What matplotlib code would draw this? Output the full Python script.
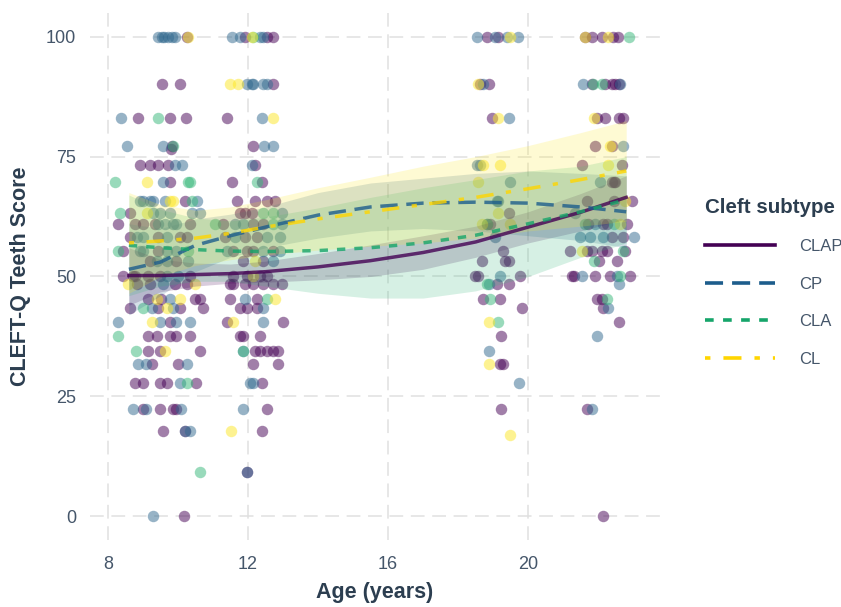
import matplotlib
matplotlib.use("Agg")
import matplotlib.pyplot as plt
from matplotlib.lines import Line2D

plt.rcParams['font.family'] = ['Liberation Sans', 'DejaVu Sans']

# jittered observations, (score level, ages) per subtype
clap_rows = [
    (100, [10.26, 11.91, 12.54, 12.71, 18.83, 19.14, 21.63, 21.83, 22.11, 22.43, 22.57]),
    (90.2, [9.54, 10.06, 12.71, 18.63, 18.87, 21.82, 22.2, 22.39, 22.49, 22.58]),
    (83, [8.86, 9.77, 10.23, 11.4, 18.96, 21.96, 22.2, 22.58, 22.72]),
    (77.3, [9.83, 12.14, 21.91, 22.39]),
    (76.6, [9.8]),
    (73.3, [8.91, 9.2, 9.43, 9.71, 12.2, 21.53, 22.68]),
    (69.8, [9.77, 11.54, 12.4, 22.39, 22.44, 22.49]),
    (65.8, [10.2, 11.69, 12.2, 12.54, 12.77, 21.68, 22.44, 22.96]),
    (63.2, [8.63, 11.77, 11.91, 12.11, 19.44]),
    (61, [8.3, 8.77, 9.01, 9.34, 10.34, 11.29, 12.15, 12.44, 18.82, 18.91, 21.72, 22.15, 22.25, 22.82]),
    (58.3, [8.63, 9.44, 10.06, 10.25, 11.34, 11.91, 12.25, 22.39, 22.72]),
    (55.3, [8.44, 9.44, 11.58, 11.96, 12.15, 12.72, 19.28, 21.2, 21.68, 21.82, 22.11, 22.25, 22.77]),
    (53.2, [9.2, 9.96, 11.87, 12.44, 18.68, 19.34, 19.44, 22.01, 22.53]),
    (50.2, [8.44, 8.72, 8.77, 9.15, 9.49, 10.34, 11.58, 11.96, 12.34, 12.53, 18.49, 18.58, 19.77,
            21.25, 21.3, 21.91, 22.34, 22.91]),
    (48.5, [8.82, 9.2, 9.91, 10.25, 11.49, 11.58, 11.91, 12.15, 12.44, 12.72, 12.96, 19.1, 19.44]),
    (45.4, [9.15, 9.53, 10.49, 10.63, 11.49, 12.25, 18.72, 19.2, 21.96, 22.11]),
    (43.5, [8.63, 9.44, 10.06, 10.72, 11.77, 11.96, 12.25, 19.82, 22.15]),
    (40.6, [9.77, 11.39, 13.01, 22.58]),
    (37.6, [9.15, 9.39, 9.77, 9.96, 10.34, 11.77, 11.87, 12.34, 19.23]),
    (34.4, [9.15, 9.49, 10.63, 12.2, 12.34, 12.53, 12.72, 12.87]),
    (31.7, [9.25, 10.01, 12.15, 12.87, 19.2, 19.28]),
    (27.7, [8.77, 9.01, 9.49, 9.68, 10.53, 12.39]),
    (22.4, [9.01, 9.49, 9.87, 9.96, 12.53, 19.23, 21.68]),
    (17.8, [9.58, 10.2, 12.39]),
    (9.3, [11.96]),
    (0, [10.18, 22.15]),
]
cp_rows = [
    (100, [9.43, 9.54, 9.6, 9.71, 9.83, 9.91, 11.54, 11.77, 12.34, 12.43, 18.53, 19.06, 19.39, 19.72]),
    (90.2, [11.97, 12.11, 12.14, 12.43, 12.54, 18.72, 21.58, 22.63]),
    (83, [8.37, 12.4, 19.44]),
    (77.3, [8.54, 9.57, 12.46, 12.71, 22.72]),
    (73.3, [9.91, 10.11, 12.11, 18.53, 18.63]),
    (69.8, [9.57, 19.49, 22.06]),
    (65.8, [8.91, 9.0, 9.2, 9.29, 9.63, 10.54, 19.1, 19.15]),
    (63.2, [9.29, 9.49, 9.77, 10.4, 10.63, 12.97, 21.34]),
    (61, [9.44, 9.63, 9.87, 9.96, 11.63, 11.87, 12.96, 21.91]),
    (58.3, [8.82, 9.01, 9.68, 11.63, 12.53, 12.91, 19.06, 21.49, 21.77, 22.15, 23.01]),
    (55.3, [8.91, 9.01, 9.68, 9.96, 11.39, 12.44, 12.91]),
    (53.2, [9.39, 9.68, 10.3, 12.72]),
    (50.2, [9.68, 10.01, 19.2, 21.53, 22.53]),
    (48.5, [9.58, 18.89, 22.58]),
    (45.4, [9.77, 11.91]),
    (43.5, [9.25, 9.87, 12.44, 22.29]),
    (40.6, [8.3, 9.49, 9.96, 10.34, 12.44]),
    (37.6, [21.96]),
    (34.4, [11.87, 18.89]),
    (31.7, [8.87, 9.1, 10.25]),
    (27.7, [10.06, 12.06, 12.15, 19.75]),
    (22.4, [8.72, 9.1, 10.1, 11.87, 21.82]),
    (17.8, [10.2, 10.34]),
    (9.3, [11.96]),
    (0, [9.29]),
]
cla_rows = [
    (100, [12.14, 22.87]),
    (90.2, [21.85, 22.11]),
    (83, [9.43]),
    (77.3, [9.85]),
    (69.8, [8.2, 10.29, 10.34, 12.26]),
    (65.8, [10.4]),
    (63.2, [8.34, 12.43, 12.71]),
    (61, [11.06, 12.72, 18.82, 21.63, 22.44]),
    (55.3, [8.3, 10.3, 22.72]),
    (53.2, [21.87]),
    (50.2, [22.63]),
    (48.5, [18.82]),
    (45.4, [12.53, 18.91, 22.25]),
    (43.5, [9.01]),
    (40.6, [19.15]),
    (37.6, [8.3]),
    (34.4, [8.79, 11.87]),
    (27.7, [10.27]),
    (9.3, [10.63]),
]
cl_rows = [
    (100, [10.29, 12.11, 19.49, 21.63, 22.29]),
    (90.2, [11.49, 11.71, 18.58]),
    (83, [12.71, 19.15, 21.87]),
    (77.3, [22.34]),
    (73.3, [18.71, 19.2, 22.29]),
    (69.8, [9.11, 18.58]),
    (65.8, [9.77, 9.86, 22.77]),
    (63.2, [9.11, 19.15]),
    (61, [18.68, 19.49, 22.63]),
    (55.3, [21.53]),
    (53.2, [12.2]),
    (50.2, [12.15]),
    (48.5, [8.58, 10.49]),
    (45.4, [9.39, 10.06, 12.77]),
    (43.5, [9.68]),
    (40.6, [9.25, 11.58, 18.89]),
    (34.4, [9.63]),
    (31.7, [18.89]),
    (17.8, [11.53]),
    (16.9, [19.49]),
]

# loess fits with confidence band
smooth_age = [8.6, 9.5, 10.5, 11.5, 12.5, 14, 15.5, 17, 18.5, 20, 21.5, 22.8]
clap_fit = [50.2, 50.2, 50.4, 50.6, 51.0, 52.0, 53.3, 55.0, 57.2, 60.3, 63.4, 66.5]
clap_lo = [44.0, 46.8, 48.0, 48.6, 48.8, 49.3, 50.0, 51.5, 54.0, 57.0, 59.5, 62.0]
clap_hi = [56.0, 53.6, 52.8, 52.6, 53.2, 54.8, 56.6, 58.5, 60.5, 63.5, 67.3, 71.0]
cp_fit = [51.5, 53.0, 56.5, 58.5, 60.3, 62.8, 64.5, 65.3, 65.5, 65.3, 64.5, 63.5]
cp_lo = [42.0, 46.0, 51.0, 54.0, 56.0, 58.0, 59.5, 60.0, 59.5, 58.5, 57.5, 56.0]
cp_hi = [61.0, 60.0, 62.0, 63.0, 64.5, 67.5, 69.5, 70.5, 71.5, 72.0, 71.5, 71.0]
cla_fit = [56.5, 56.0, 55.6, 55.3, 55.2, 55.4, 56.0, 57.0, 58.6, 61.0, 63.5, 66.0]
cla_lo = [46.0, 48.0, 49.0, 49.0, 48.0, 46.5, 45.5, 45.5, 47.0, 50.0, 54.0, 57.0]
cla_hi = [67.0, 64.0, 62.2, 61.6, 62.4, 64.3, 66.5, 68.5, 70.2, 72.0, 73.0, 75.0]
cl_fit = [57.0, 57.4, 58.0, 59.0, 60.3, 62.0, 63.5, 65.0, 66.5, 68.3, 70.2, 72.0]
cl_lo = [46.5, 50.0, 52.3, 53.5, 54.5, 55.5, 56.3, 57.0, 58.0, 59.5, 60.5, 61.5]
cl_hi = [67.5, 65.0, 63.8, 64.5, 66.0, 68.5, 70.7, 73.0, 75.0, 77.3, 80.0, 82.5]

labels = ['CLAP', 'CP', 'CLA', 'CL']
point_cols = ['#440154', '#31688E', '#35B779', '#FDE725']
line_cols = ['#440154', '#1d5d8c', '#16a56a', '#ffd500']
styles = ['-', (0, (5, 2.5)), (0, (2.4, 2.6)), (0, (1.5, 3.6, 5, 3.6))]

rows = [clap_rows, cp_rows, cla_rows, cl_rows]
fits = [(clap_fit, clap_lo, clap_hi), (cp_fit, cp_lo, cp_hi),
        (cla_fit, cla_lo, cla_hi), (cl_fit, cl_lo, cl_hi)]

text_col = '#2c3e50'
tick_col = '#45566a'

fig = plt.figure(figsize=(8.41, 6.07), dpi=100)
ax = fig.add_axes([0.107, 0.110, 0.678, 0.869])

for r, c in zip(rows, point_cols):
    xs = [a for s, ages in r for a in ages]
    ys = [s for s, ages in r for a in ages]
    ax.scatter(xs, ys, s=68, color=c, alpha=0.5, linewidths=0, zorder=2)

for (f, lo, hi), c in zip(fits, point_cols):
    ax.fill_between(smooth_age, lo, hi, color=c, alpha=0.2, linewidth=0, zorder=3)

for (f, lo, hi), c, ls in zip(fits, line_cols, styles):
    ax.plot(smooth_age, f, color=c, lw=2.5, ls=ls, alpha=0.8, zorder=4)

ax.set_xlim(7.49, 23.77)
ax.set_ylim(-5, 105)
ax.set_xticks([8, 12, 16, 20])
ax.set_yticks([0, 25, 50, 75, 100])
ax.grid(True, color='#e0e0e0', lw=1.1, ls=(0, (9, 5)), zorder=0)
ax.set_axisbelow(True)
for sp in ax.spines.values():
    sp.set_visible(False)
ax.tick_params(length=0, labelsize=13, labelcolor=tick_col)
ax.tick_params(axis='y', pad=10)
ax.tick_params(axis='x', pad=11)
ax.set_xlabel('Age (years)', fontsize=15.5, fontweight='bold', color=text_col, labelpad=7)
ax.set_ylabel('CLEFT-Q Teeth Score', fontsize=15.5, fontweight='bold', color=text_col, labelpad=11)

handles = [Line2D([0], [0], color=c, lw=2.6, ls=ls) for c, ls in zip(line_cols, styles)]
leg = fig.legend(handles, labels, title='Cleft subtype', loc='upper left',
                 bbox_to_anchor=(0.828, 0.688), frameon=False, handlelength=4.2,
                 labelspacing=1.35, handletextpad=1.45, borderpad=0, alignment='left',
                 prop={'size': 12}, title_fontproperties={'weight': 'bold', 'size': 14.8},
                 labelcolor=tick_col)
leg.get_title().set_color(text_col)

fig.savefig('out.png', dpi=100)
